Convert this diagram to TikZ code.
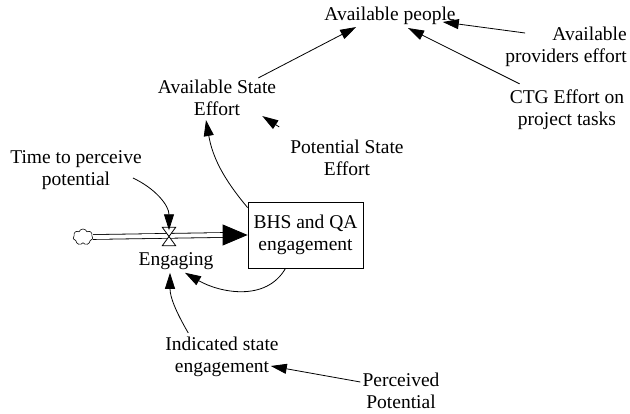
\documentclass[tikz,border=0pt]{standalone}
\usepackage{fontspec}
\newfontfamily\tnr{Liberation Serif}
\usetikzlibrary{arrows.meta,shapes.symbols}
\begin{document}
\begin{tikzpicture}[x=1pt,y=-1pt,
  lbl/.style={font=\tnr\fontsize{19.5}{22}\selectfont, align=center, inner sep=2pt},
  arr/.style={line width=0.8pt, -{Triangle[length=16pt,width=10pt]}},
  stockbox/.style={draw, line width=0.8pt, minimum width=115pt, minimum height=66pt, inner sep=0pt, font=\tnr\fontsize{19.5}{22}\selectfont, align=center}
]
\useasboundingbox (0,0) rectangle (630,414);

\node[lbl] (ap) at (390,16) {Available people};
\node[lbl, align=right] (ape) at (566,47) {Available\\providers effort};
\node[lbl] (ctg) at (567,110) {CTG Effort on\\project tasks};
\node[lbl] (ase) at (217,98) {Available State\\Effort};
\node[lbl] (pse) at (347,158) {Potential State\\Effort};
\node[lbl] (tpp) at (76,170) {Time to perceive\\potential};
\node[stockbox] (box) at (305.5,235) {BHS and QA\\engagement};
\node[lbl] (eng) at (176,261) {Engaging};
\node[lbl] (ise) at (222,357) {Indicated state\\engagement};
\node[lbl] (pp) at (401,391) {Perceived\\Potential};
\node[cloud, draw, cloud puffs=7, cloud puff arc=140, aspect=1.2, minimum width=20pt, minimum height=16pt, inner sep=0pt, line width=0.6pt] (cloud) at (83,237) {};
\node[minimum width=13pt, minimum height=18pt, inner sep=0pt] (valve) at (169,236.5) {};

% pipe
\draw[line width=0.8pt, double, double distance=4pt] (cloud.east) -- ([xshift=-24pt]box.west);
\draw[line width=0.8pt, -{Triangle[length=25pt,width=21pt]}] ([xshift=-25pt]box.west) -- (box.west);
\draw[line width=0.8pt, fill=white] (valve.north west) -- (valve.north east) -- (valve.south west) -- (valve.south east) -- cycle;

% connectors
\draw[arr] ([xshift=-20pt]ase.north east) -- ([xshift=34pt]ap.south west);
\draw[arr] ([xshift=22pt,yshift=14pt]ape.west) -- ([xshift=-15pt,yshift=-6pt]ap.east);
\draw[arr] ([xshift=12pt,yshift=4pt]ctg.north west) -- ([xshift=18pt,yshift=-1pt]ap.south);
\draw[arr] ([xshift=-9pt,yshift=11pt]pse.north west) -- ([xshift=-16pt,yshift=2pt]ase.south east);
\draw[arr] ([yshift=-6pt]box.north west) to[out=130, in=-80] ([xshift=-11pt,yshift=-2pt]ase.south);
\draw[arr] ([xshift=-11pt,yshift=-8pt]tpp.east) to[out=-25, in=90] ([yshift=-3pt]valve.north);
\draw[arr] ([xshift=-20pt]box.south) to[out=-120, in=-30] ([xshift=9pt,yshift=-1pt]eng.south);
\draw[arr] ([xshift=25pt,yshift=2pt]ise.north west) to[out=120, in=-90] ([xshift=-6pt,yshift=-1pt]eng.south);
\draw[arr] ([yshift=9pt]pp.west) -- ([xshift=-10pt,yshift=-9pt]ise.east);
\end{tikzpicture}
\end{document}
